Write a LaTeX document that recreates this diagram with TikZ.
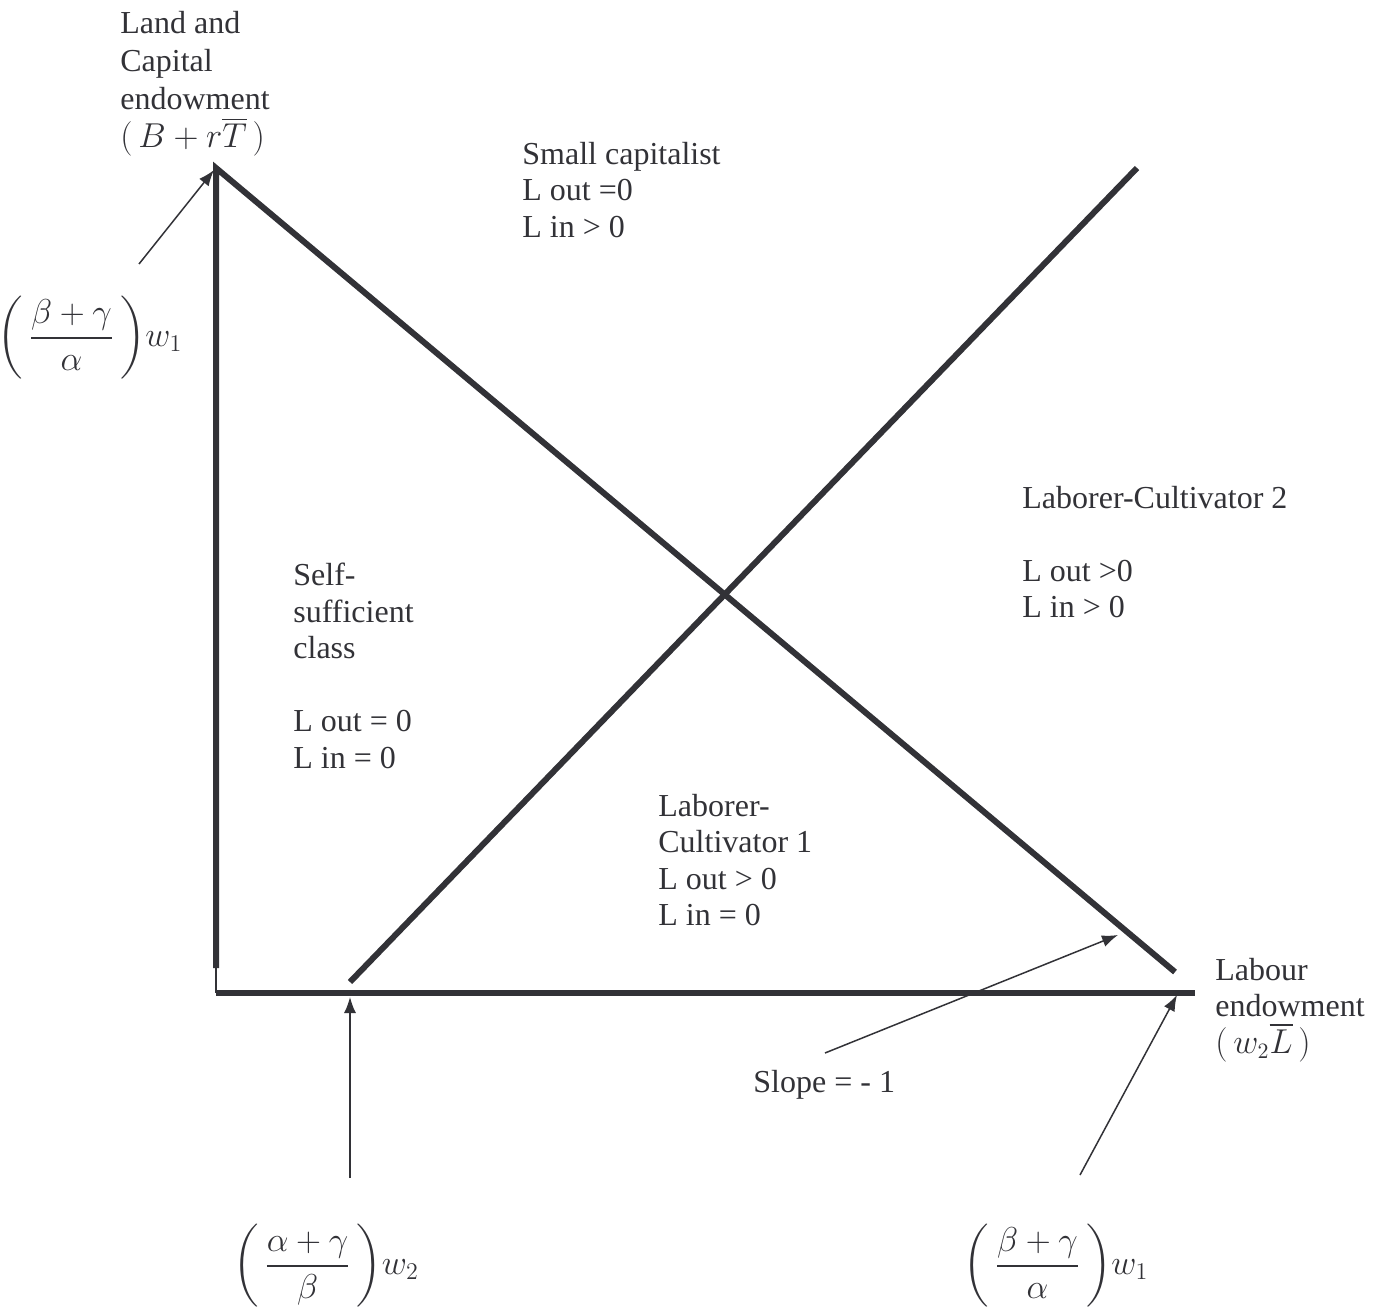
\documentclass[tikz,border=0pt]{standalone}
\usepackage{amsmath}
\usepackage{fontspec}
\setmainfont{Liberation Serif}
\usetikzlibrary{arrows.meta}
\definecolor{ink}{RGB}{50,50,55}
\begin{document}
\begin{tikzpicture}[x=0.5pt,y=-0.5pt,
  axis/.style={line width=3pt, draw=ink, line join=miter},
  thinaxis/.style={line width=0.75pt, draw=ink},
  pointer/.style={line width=0.75pt, draw=ink, -{Latex[length=8pt,width=6pt]}},
  lbl/.style={text=ink, font=\fontsize{16}{18.25}\selectfont, align=left, inner sep=0pt, anchor=west},
  formula/.style={text=ink, font=\fontsize{17}{20}\selectfont, inner sep=0pt}]
\useasboundingbox (0,0) rectangle (1383,1311);
% axes and lines
\coordinate (O) at (216,993);
\coordinate (Ytop) at (216,168);
\coordinate (Yend) at (216,968);
\coordinate (Xend) at (1195,993);
\coordinate (D1end) at (1175,972);
\coordinate (D2start) at (350,982);
\coordinate (D2end) at (1137,168);
\draw[axis] (Yend) -- (Ytop) -- (D1end);
\draw[thinaxis] (Yend) -- (O);
\draw[axis] (O) -- (Xend);
\draw[axis] (D2start) -- (D2end);
% labels
\node[lbl, font=\fontsize{16}{19}\selectfont] (land) at (120,84) {Land and\\Capital\\endowment\\$(\,B+r\overline{T}\,)$};
\node[lbl] (smallcap) at (522,190) {Small capitalist\\L out =0\\L in > 0};
\node[lbl] (lc2) at (1022,552) {Laborer-Cultivator 2\\ {}\\L out >0\\L in > 0};
\node[lbl] (self) at (293,666) {Self-\\sufficient\\class\\ {}\\L out = 0\\L in = 0};
\node[lbl] (lc1) at (658,860) {Laborer-\\Cultivator 1\\L out > 0\\L in = 0};
\node[lbl] (labour) at (1215,1010) {Labour\\endowment\\$(\,w_2\overline{L}\,)$};
\node[lbl] (slope) at (753,1085) {Slope = - 1};
\node[formula] (fA) at (90,338) {$\left(\,\dfrac{\beta+\gamma}{\alpha}\,\right)\!w_1$};
\node[formula] (fB) at (326,1266) {$\left(\,\dfrac{\alpha+\gamma}{\beta}\,\right)\!w_2$};
\node[formula] (fC) at (1056,1266) {$\left(\,\dfrac{\beta+\gamma}{\alpha}\,\right)\!w_1$};
% pointers
\coordinate (tA) at (139,264);
\coordinate (hA) at (214,170);
\coordinate (tB) at (350,1178);
\coordinate (hB) at (350,997);
\coordinate (tC) at (1080,1175);
\coordinate (hC) at (1177,995);
\coordinate (tS) at (825,1053);
\coordinate (hS) at (1118,935);
\draw[pointer] (tA) -- (hA);
\draw[pointer] (tB) -- (hB);
\draw[pointer] (tC) -- (hC);
\draw[pointer] (tS) -- (hS);
\end{tikzpicture}
\end{document}
